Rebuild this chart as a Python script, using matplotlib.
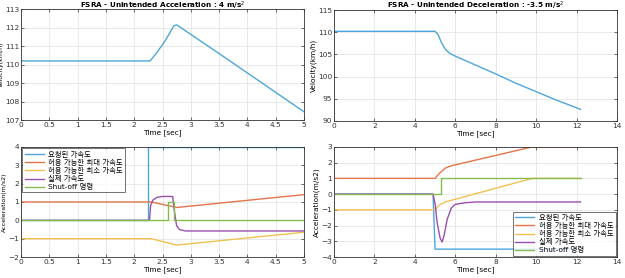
import numpy as np
import matplotlib
matplotlib.use('Agg')
import matplotlib.pyplot as plt

plt.rcParams['font.family'] = ['DejaVu Sans', 'Noto Sans CJK KR']
plt.rcParams['font.size'] = 5.3

# 색상 (MATLAB 기본, 약간 밝게)
c_req = '#4DA6DB'
c_max = '#E3744B'
c_min = '#F0C250'
c_act = '#9B4FAE'
c_shut = '#86BC4E'

labels = ['요청된 가속도', '허용 가능한 최대 가속도', '허용 가능한 최소 가속도', '실제 가속도', 'Shut-off 명령']

# ---- 왼쪽: 가속 ----
t_vel_a = [0, 2.28, 2.4, 2.55, 2.7, 2.75, 2.8, 3.5, 4.0, 4.5, 5.0]
v_vel_a = [110.2, 110.2, 110.65, 111.3, 112.1, 112.15, 112.05, 110.6, 109.55, 108.5, 107.45]

t_req_a = [0, 2.25, 2.25, 5.0]
v_req_a = [0, 0, 4, 4]
t_max_a = [0, 2.3, 2.75, 5.0]
v_max_a = [1, 1, 0.7, 1.4]
t_min_a = [0, 2.3, 2.75, 5.0]
v_min_a = [-1, -1, -1.35, -0.65]
t_act_a = [0, 2.27, 2.29, 2.33, 2.4, 2.5, 2.68, 2.71, 2.75, 2.8, 2.9, 5.0]
v_act_a = [0, 0, 0.8, 1.1, 1.25, 1.3, 1.3, 0.5, -0.3, -0.5, -0.58, -0.58]
t_shut_a = [0, 2.6, 2.6, 2.7, 2.7, 5.0]
v_shut_a = [0, 0, 1, 1, 0, 0]

# ---- 오른쪽: 감속 ----
t_vel_d = [0, 5.0, 5.15, 5.3, 5.5, 5.7, 6.0, 7.0, 8.0, 9.0, 10.0, 11.0, 12.2]
v_vel_d = [110.2, 110.2, 109.5, 107.8, 106.2, 105.3, 104.6, 102.6, 100.6, 98.5, 96.6, 94.7, 92.6]

t_req_d = [0, 4.9, 5.0, 12.2]
v_req_d = [0, 0, -3.5, -3.5]
t_max_d = [0, 5.0, 5.2, 5.5, 5.8, 9.8, 12.2]
v_max_d = [1, 1, 1.3, 1.65, 1.8, 3.0, 3.0]
t_min_d = [0, 5.0, 5.2, 5.5, 9.8, 12.2]
v_min_d = [-1, -1, -0.7, -0.5, 1.0, 1.0]
t_act_d = [0, 4.9, 5.0, 5.1, 5.25, 5.35, 5.45, 5.6, 5.8, 6.0, 6.5, 7.0, 12.2]
v_act_d = [0, 0, -0.6, -1.8, -2.8, -3.05, -2.6, -1.6, -0.9, -0.65, -0.55, -0.5, -0.5]
t_shut_d = [0, 5.3, 5.3, 12.2]
v_shut_d = [0, 0, 1, 1]

fig = plt.figure(figsize=(6.25, 2.78), dpi=100)
ax1 = fig.add_axes([0.0336, 0.568, 0.4528, 0.399])
ax2 = fig.add_axes([0.5344, 0.565, 0.4528, 0.399])
ax3 = fig.add_axes([0.0336, 0.0755, 0.4528, 0.396])
ax4 = fig.add_axes([0.5344, 0.0755, 0.4528, 0.396])

for ax in [ax1, ax2, ax3, ax4]:
    ax.grid(True, color='#e0e0e0', linewidth=0.5)
    ax.set_axisbelow(True)
    ax.tick_params(direction='in', length=2, width=0.5, pad=1.2, colors='#333333',
                   top=True, right=True)
    for s in ax.spines.values():
        s.set_linewidth(0.6)
        s.set_color('#333333')

ax1.plot(t_vel_a, v_vel_a, color=c_req, lw=1)
ax1.set_xlim(0, 5)
ax1.set_ylim(107, 113)
ax1.set_xticks(np.arange(0, 5.01, 0.5))
ax1.set_xticklabels(['0', '0.5', '1', '1.5', '2', '2.5', '3', '3.5', '4', '4.5', '5'])
ax1.set_title('FSRA - Unintended Acceleration : 4 m/s$^2$', fontsize=5.2, fontweight='bold', pad=0.8)
ax1.set_xlabel('Time [sec]', labelpad=1)
ax1.set_ylabel('Velocity(km/h)', fontsize=4.5)
ax1.yaxis.set_label_coords(-0.062, 0.5)

ax2.plot(t_vel_d, v_vel_d, color=c_req, lw=1)
ax2.set_xlim(0, 14)
ax2.set_ylim(90, 115)
ax2.set_xticks(np.arange(0, 15, 2))
ax2.set_yticks(np.arange(90, 116, 5))
ax2.set_title('FSRA - Unintended Deceleration : -3.5 m/s$^2$', fontsize=5.2, fontweight='bold', pad=0.8)
ax2.set_xlabel('Time [sec]', labelpad=1)
ax2.set_ylabel('Velocity(km/h)', labelpad=1)

ax3.plot(t_req_a, v_req_a, color=c_req, lw=1, label=labels[0])
ax3.plot(t_max_a, v_max_a, color=c_max, lw=1, label=labels[1])
ax3.plot(t_min_a, v_min_a, color=c_min, lw=1, label=labels[2])
ax3.plot(t_act_a, v_act_a, color=c_act, lw=1, label=labels[3])
ax3.plot(t_shut_a, v_shut_a, color=c_shut, lw=1, label=labels[4])
ax3.set_xlim(0, 5)
ax3.set_ylim(-2, 4)
ax3.set_xticks(np.arange(0, 5.01, 0.5))
ax3.set_xticklabels(['0', '0.5', '1', '1.5', '2', '2.5', '3', '3.5', '4', '4.5', '5'])
ax3.set_xlabel('Time [sec]', labelpad=1)
ax3.set_ylabel('Acceleration(m/s2)', fontsize=4.5)
ax3.yaxis.set_label_coords(-0.05, 0.5)

ax4.plot(t_req_d, v_req_d, color=c_req, lw=1, label=labels[0])
ax4.plot(t_max_d, v_max_d, color=c_max, lw=1, label=labels[1])
ax4.plot(t_min_d, v_min_d, color=c_min, lw=1, label=labels[2])
ax4.plot(t_act_d, v_act_d, color=c_act, lw=1, label=labels[3])
ax4.plot(t_shut_d, v_shut_d, color=c_shut, lw=1, label=labels[4])
ax4.set_xlim(0, 14)
ax4.set_ylim(-4, 3)
ax4.set_xticks(np.arange(0, 15, 2))
ax4.set_xlabel('Time [sec]', labelpad=1)
ax4.set_ylabel('Acceleration(m/s2)', labelpad=1)

for ax, loc in [(ax3, 'upper left'), (ax4, 'lower right')]:
    leg = ax.legend(loc=loc, fontsize=5.3, frameon=True, fancybox=False,
                    borderpad=0.3, labelspacing=0.15, handlelength=2.6,
                    handletextpad=0.6, borderaxespad=0.2)
    leg.get_frame().set_edgecolor('#333333')
    leg.get_frame().set_linewidth(0.6)
    for txt in leg.get_texts():
        txt.set_family(['DejaVu Sans', 'Noto Sans CJK KR'])

fig.savefig('out.png', dpi=100, facecolor='white')
